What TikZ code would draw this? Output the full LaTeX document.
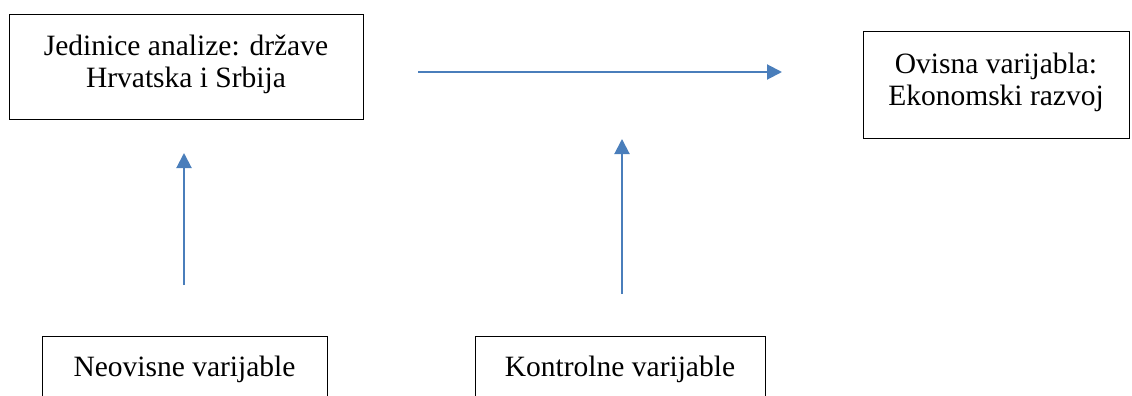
\documentclass[tikz,border=0pt]{standalone}
\usepackage{fontspec}
\setmainfont{Liberation Serif}
\usetikzlibrary{arrows.meta}
\definecolor{arrowblue}{HTML}{4A7EBB}
\begin{document}
\begin{tikzpicture}[x=1pt,y=-1pt,
  box/.style={draw=black, line width=1pt, inner sep=0pt, align=center,
    font=\fontsize{29.5}{32}\selectfont},
  twoline/.style={text height=52pt, text depth=12pt},
  conn/.style={draw=arrowblue, line width=2pt, -{Triangle[length=15pt,width=15pt]}}]
\useasboundingbox (0,0) rectangle (1132,396);
\clip (0,0) rectangle (1132,396);
\node[box, twoline, minimum width=354, minimum height=104] (units) at (186,67)
  {Jedinice analize: države\\Hrvatska i Srbija};
\node[box, twoline, minimum width=266, minimum height=106] (dep) at (996,85)
  {Ovisna varijabla:\\Ekonomski razvoj};
\node[box, anchor=north, minimum width=285, text height=20pt, text depth=60pt,
  inner ysep=19.5pt] (indep) at (184.5,336) {Neovisne varijable};
\node[box, anchor=north, minimum width=290, text height=20pt, text depth=60pt,
  inner ysep=19.5pt] (ctrl) at (620,336) {Kontrolne varijable};
\coordinate (h1) at (418,72);
\coordinate (h2) at (782,72);
\coordinate (a1s) at (184,285);
\coordinate (a1e) at (184,153);
\coordinate (a2s) at (622,294);
\coordinate (a2e) at (622,139);
\draw[conn] (h1) -- (h2);
\draw[conn] (a1s) -- (a1e);
\draw[conn] (a2s) -- (a2e);
\end{tikzpicture}
\end{document}
